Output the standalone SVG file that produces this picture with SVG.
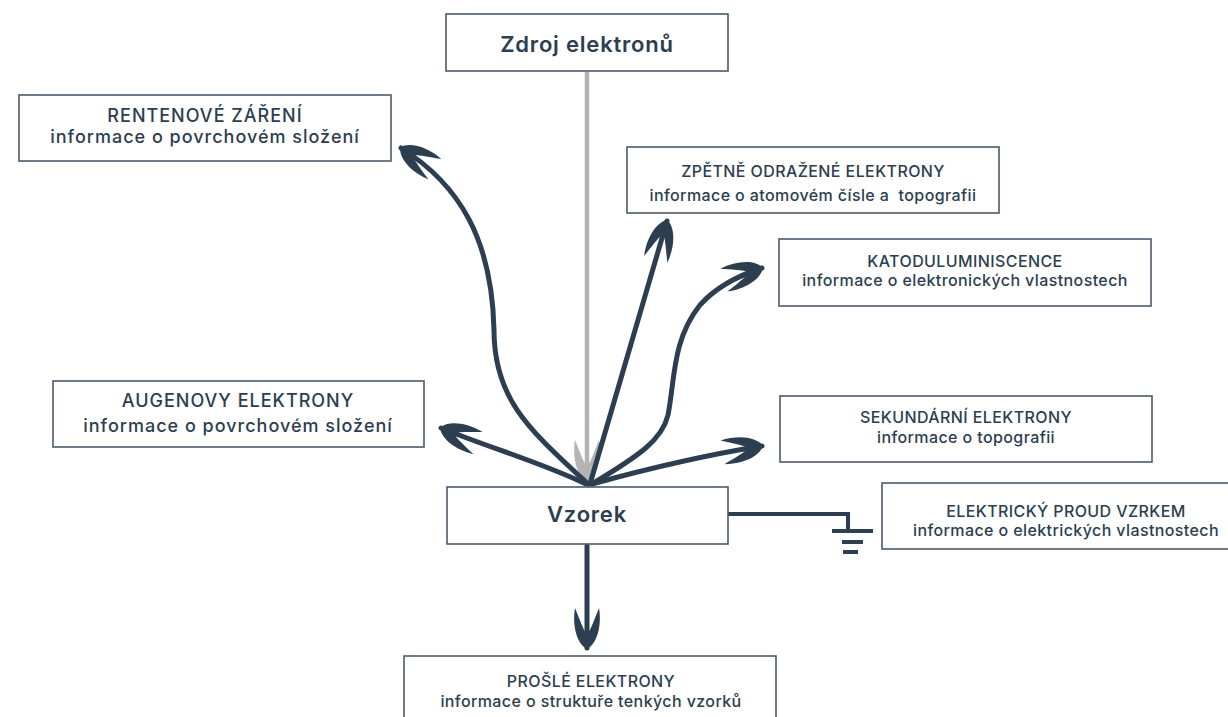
<svg xmlns="http://www.w3.org/2000/svg" width="1228" height="717" viewBox="0 0 1228 717">
<style>
.box{fill:#fff;stroke:#4b5b6b;stroke-width:1.6}
.t{font-family:Inter,"Noto Sans","Liberation Sans",sans-serif;fill:#2c3e50;text-anchor:middle;font-weight:500}
.big{font-size:22px;font-weight:600;letter-spacing:0.8px}
.m{font-size:18px;letter-spacing:1px}
.s{font-size:16px;letter-spacing:0.4px}
.c{fill:none;stroke:#2c3e50;stroke-width:5;stroke-linecap:round}
.g{fill:none;stroke:#b4b4b4;stroke-width:4.5}
.gnd{fill:none;stroke:#2c3e50;stroke-width:4}
</style>
<defs>
<marker id="ah" markerUnits="userSpaceOnUse" orient="auto" refX="0" refY="0" markerWidth="50" markerHeight="40" viewBox="-45 -20 50 40" overflow="visible">
<path d="M1,0 C-4,-10 -22,-15 -40,-12 C-30,-8 -19,-4 -13,0 C-19,4 -30,8 -40,12 C-22,15 -4,10 1,0 Z" fill="#2c3e50"/>
</marker>
<marker id="ahg" markerUnits="userSpaceOnUse" orient="auto" refX="0" refY="0" markerWidth="50" markerHeight="40" viewBox="-45 -20 50 40" overflow="visible">
<path d="M1,0 C-4,-10 -22,-15 -40,-12 C-30,-8 -19,-4 -13,0 C-19,4 -30,8 -40,12 C-22,15 -4,10 1,0 Z" fill="#b4b4b4"/>
</marker>
</defs>
<g id="connectors">
<path class="g" d="M587,72 L587,480" marker-end="url(#ahg)"/>
<path class="c" d="M588,484 C530,430 494,400 494,330 C492,240 460,185 401,148" marker-end="url(#ah)"/>
<path class="c" d="M590,484 L667,221" marker-end="url(#ah)"/>
<path class="c" d="M592,484 C640,455 662,440 668,415 C675,380 672,340 700,305 C718,285 740,275 762,268" marker-end="url(#ah)"/>
<path class="c" d="M592,484 C650,468 700,456 762,446" marker-end="url(#ah)"/>
<path class="c" d="M586,484 C540,462 490,448 441,428" marker-end="url(#ah)"/>
<path class="c" d="M587,546 L587,648" marker-end="url(#ah)"/>
<path class="gnd" d="M728,514 L848,514 L848,530"/>
<path class="gnd" d="M832,531 L873,531 M842,542 L863,542 M843,552 L858,552"/>
</g>
<g id="zdroj"><rect class="box" x="446" y="14" width="282" height="57"/><text class="t big" x="587" y="52">Zdroj elektronů</text></g>
<g id="rentgen"><rect class="box" x="19" y="95" width="372" height="66"/><text class="t m" x="205" y="122">RENTENOVÉ ZÁŘENÍ</text><text class="t m" x="205" y="143">informace o povrchovém složení</text></g>
<g id="zpetne"><rect class="box" x="627" y="147" width="372" height="66"/><text class="t s" x="813" y="177">ZPĚTNĚ ODRAŽENÉ ELEKTRONY</text><text class="t s" x="813" y="201" xml:space="preserve">informace o atomovém čísle a  topografii</text></g>
<g id="katodo"><rect class="box" x="779" y="239" width="372" height="67"/><text class="t s" x="965" y="267">KATODULUMINISCENCE</text><text class="t s" x="965" y="286">informace o elektronických vlastnostech</text></g>
<g id="auger"><rect class="box" x="53" y="381" width="371" height="66"/><text class="t m" x="238" y="407">AUGENOVY ELEKTRONY</text><text class="t m" x="238" y="432">informace o povrchovém složení</text></g>
<g id="sekundarni"><rect class="box" x="780" y="396" width="372" height="66"/><text class="t s" x="966" y="423">SEKUNDÁRNÍ ELEKTRONY</text><text class="t s" x="966" y="443">informace o topografii</text></g>
<g id="vzorek"><rect class="box" x="447" y="487" width="281" height="57"/><text class="t big" x="587" y="522">Vzorek</text></g>
<g id="proud"><rect class="box" x="882" y="483" width="372" height="66"/><text class="t s" x="1066" y="517">ELEKTRICKÝ PROUD VZRKEM</text><text class="t s" x="1066" y="536">informace o elektrických vlastnostech</text></g>
<g id="prosle"><rect class="box" x="404" y="656" width="372" height="80"/><text class="t s" x="591" y="687">PROŠLÉ ELEKTRONY</text><text class="t s" x="591" y="707">informace o struktuře tenkých vzorků</text></g>
</svg>
